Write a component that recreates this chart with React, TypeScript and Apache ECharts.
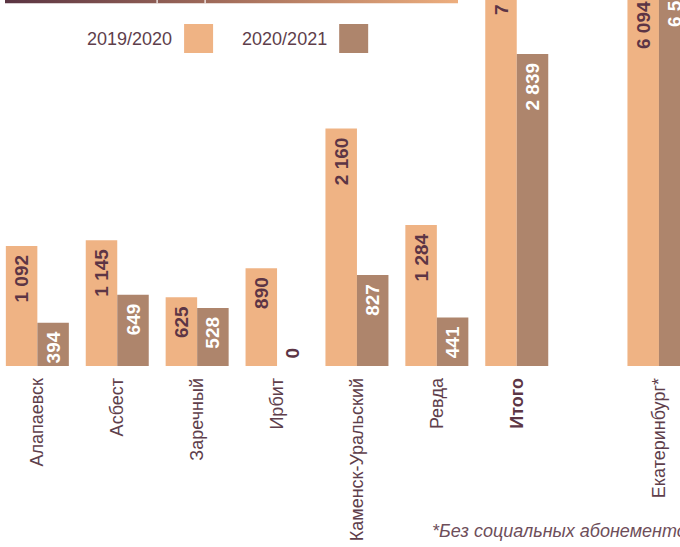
import React, { useEffect, useRef } from "react";
import * as echarts from "echarts";

const categories = ["Алапаевск", "Асбест", "Заречный", "Ирбит", "Каменск-Уральский", "Ревда", "Итого"];
const values2019 = [1092, 1145, 625, 890, 2160, 1284, 7196];
const values2020 = [394, 649, 528, 0, 827, 441, 2839];
const extraCategory = ["Екатеринбург*"];
const extra2019 = [6094];
const extra2020 = [6530];
const seriesNames = ["2019/2020", "2020/2021"];
const footnote = "*Без социальных абонементов";

const ORANGE = "#EFB384";
const BROWN = "#AE856C";
const DARK = "#5C3545";
const TEXT = "#5E3E4B";
const FONT = '"Liberation Sans", Arial, sans-serif';
const Y_MAX = 3330;

const fmt = (v: number) => String(v).replace(/\B(?=(\d{3})+(?!\d))/g, " ");

// labels of bars running off the picture are kept in view
const offsetFor: Record<number, number> = { 7196: 351, 6094: 317, 6530: 339 };

function item(v: number) {
  if (v === 0) {
    return {
      value: v,
      label: { position: "insideBottom", distance: 7.5, align: "left", color: DARK },
    };
  }
  if (offsetFor[v] !== undefined) {
    return {
      value: v,
      label: { position: "insideBottom", distance: offsetFor[v], align: "left" },
    };
  }
  return { value: v };
}

function barSeries(name: string, data: number[], idx: number, color: string, labelColor: string) {
  return {
    type: "bar",
    name,
    xAxisIndex: idx,
    yAxisIndex: idx,
    barWidth: 31.5,
    barGap: "0%",
    itemStyle: { color },
    data: data.map((v) => item(v)),
    label: {
      show: true,
      position: "insideTop",
      distance: 9,
      rotate: 90,
      align: "right",
      verticalAlign: "middle",
      color: labelColor,
      fontFamily: FONT,
      fontWeight: "bold",
      fontSize: 19,
      formatter: (p: any) => fmt(p.value),
    },
  };
}

function axisLabel() {
  return {
    rotate: 90,
    margin: 12,
    fontSize: 18,
    color: TEXT,
    fontFamily: FONT,
    interval: 0,
    formatter: (v: string) => (v === "Итого" ? `{b|${v}}` : v),
    rich: { b: { fontWeight: "bold", fontSize: 18, color: DARK, fontFamily: FONT } },
  };
}

export default function App() {
  const ref = useRef<HTMLDivElement>(null);
  useEffect(() => {
    if (!ref.current) return;
    const chart = echarts.init(ref.current, null, { renderer: "svg" });
    chart.setOption({
      animation: false,
      backgroundColor: "#ffffff",
      grid: [
        { left: -2.6, width: 559.3, top: 0, bottom: 181, outerBoundsMode: "none", containLabel: false },
        { left: 619, width: 79.9, top: 0, bottom: 181, outerBoundsMode: "none", containLabel: false },
      ],
      xAxis: [
        { type: "category", gridIndex: 0, data: categories, axisLine: { show: false }, axisTick: { show: false }, axisLabel: axisLabel() },
        { type: "category", gridIndex: 1, data: extraCategory, axisLine: { show: false }, axisTick: { show: false }, axisLabel: axisLabel() },
      ],
      yAxis: [
        { type: "value", gridIndex: 0, min: 0, max: Y_MAX, show: false },
        { type: "value", gridIndex: 1, min: 0, max: Y_MAX, show: false },
      ],
      legend: {
        data: seriesNames,
        left: 87,
        top: 24,
        padding: 0,
        itemWidth: 29,
        itemHeight: 29,
        itemGap: 29,
        align: "right",
        icon: "rect",
        selectedMode: false,
        textStyle: { fontSize: 18, color: TEXT, fontFamily: FONT, padding: [0, 7, 0, 0] },
      },
      series: [
        barSeries(seriesNames[0], values2019, 0, ORANGE, DARK),
        barSeries(seriesNames[1], values2020, 0, BROWN, "#ffffff"),
        barSeries(seriesNames[0], extra2019, 1, ORANGE, DARK),
        barSeries(seriesNames[1], extra2020, 1, BROWN, "#ffffff"),
      ],
      graphic: [
        {
          type: "rect",
          shape: { x: 5, y: 0, width: 453, height: 3.3 },
          style: {
            fill: new echarts.graphic.LinearGradient(0, 0, 1, 0, [
              { offset: 0, color: "#5A3442" },
              { offset: 0.5, color: "#A56F5C" },
              { offset: 1, color: "#EDAE7E" },
            ]),
          },
        },
        { type: "rect", shape: { x: 156.5, y: 0, width: 1.2, height: 3.3 }, style: { fill: "#ffffff" } },
        { type: "rect", shape: { x: 204.5, y: 0, width: 1.2, height: 3.3 }, style: { fill: "#ffffff" } },
        {
          type: "text",
          left: 432,
          top: 522,
          style: {
            text: footnote,
            fontSize: 18,
            fontStyle: "italic",
            fontFamily: FONT,
            fill: "#6E4E5A",
          },
        },
      ],
    });
    return () => chart.dispose();
  }, []);
  return (
    <div
      ref={ref}
      style={{ position: "absolute", left: 0, top: 0, width: 680, height: 547 }}
    />
  );
}
